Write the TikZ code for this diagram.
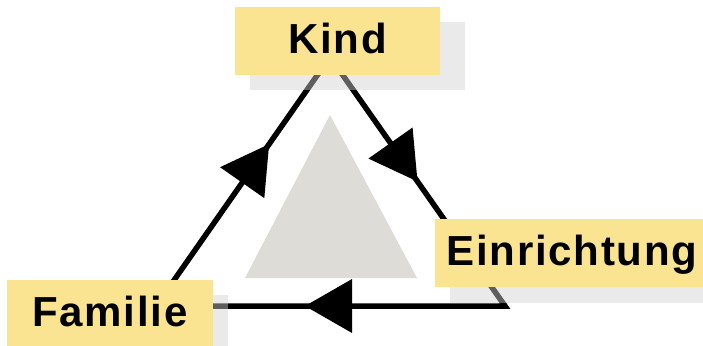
\documentclass[tikz,border=0pt]{standalone}
\usepackage{fontspec}
\setmainfont{Liberation Sans}
\newfontfamily\boxfont[LetterSpace=4]{Liberation Sans}
\usetikzlibrary{decorations.markings}
\definecolor{boxyellow}{RGB}{250,228,145}
\definecolor{centergray}{RGB}{222,220,215}
\tikzset{
  labelbox/.style={
    fill=boxyellow,
    minimum height=68pt,
    inner sep=0pt,
    text height=30pt,
    text depth=6pt,
    font=\boxfont\bfseries\fontsize{42}{42}\selectfont
  },
  shadowbox/.style={
    fill=black!18,
    opacity=0.45
  },
  edgeline/.style={
    line width=5.5pt,
    line join=miter
  },
  arrowmark/.style={
    postaction={decorate},
    decoration={markings,
      mark=at position #1 with {\fill (-47,-27) -- (0,0) -- (-47,27) -- cycle;}}
  },
  centertri/.style={
    fill=centergray
  }
}
\begin{document}
\begin{tikzpicture}[x=1pt,y=-1pt]
  \useasboundingbox (0,0) rectangle (703,345);
  \coordinate (top) at (330,57);
  \coordinate (br) at (505,306);
  \coordinate (bl) at (156,306);
  \fill[centertri] (330,115) -- (417,278) -- (245,278) -- cycle;
  \draw[edgeline] (top) -- (br) -- (bl) -- cycle;
  \path[arrowmark=0.65] (bl) -- (top);
  \path[arrowmark=0.5] (top) -- (br);
  \path[arrowmark=0.573] (br) -- (bl);
  \fill[shadowbox] (250,22) rectangle (465,90);
  \fill[shadowbox] (450,235) rectangle (712,303);
  \fill[shadowbox] (22,295) rectangle (228,363);
  \node[labelbox, minimum width=205pt] (kind) at (337.5,41) {Kind};
  \node[labelbox, minimum width=274pt] (einrichtung) at (572,253) {Einrichtung};
  \node[labelbox, minimum width=206pt] (familie) at (110,314) {Familie};
\end{tikzpicture}
\end{document}
